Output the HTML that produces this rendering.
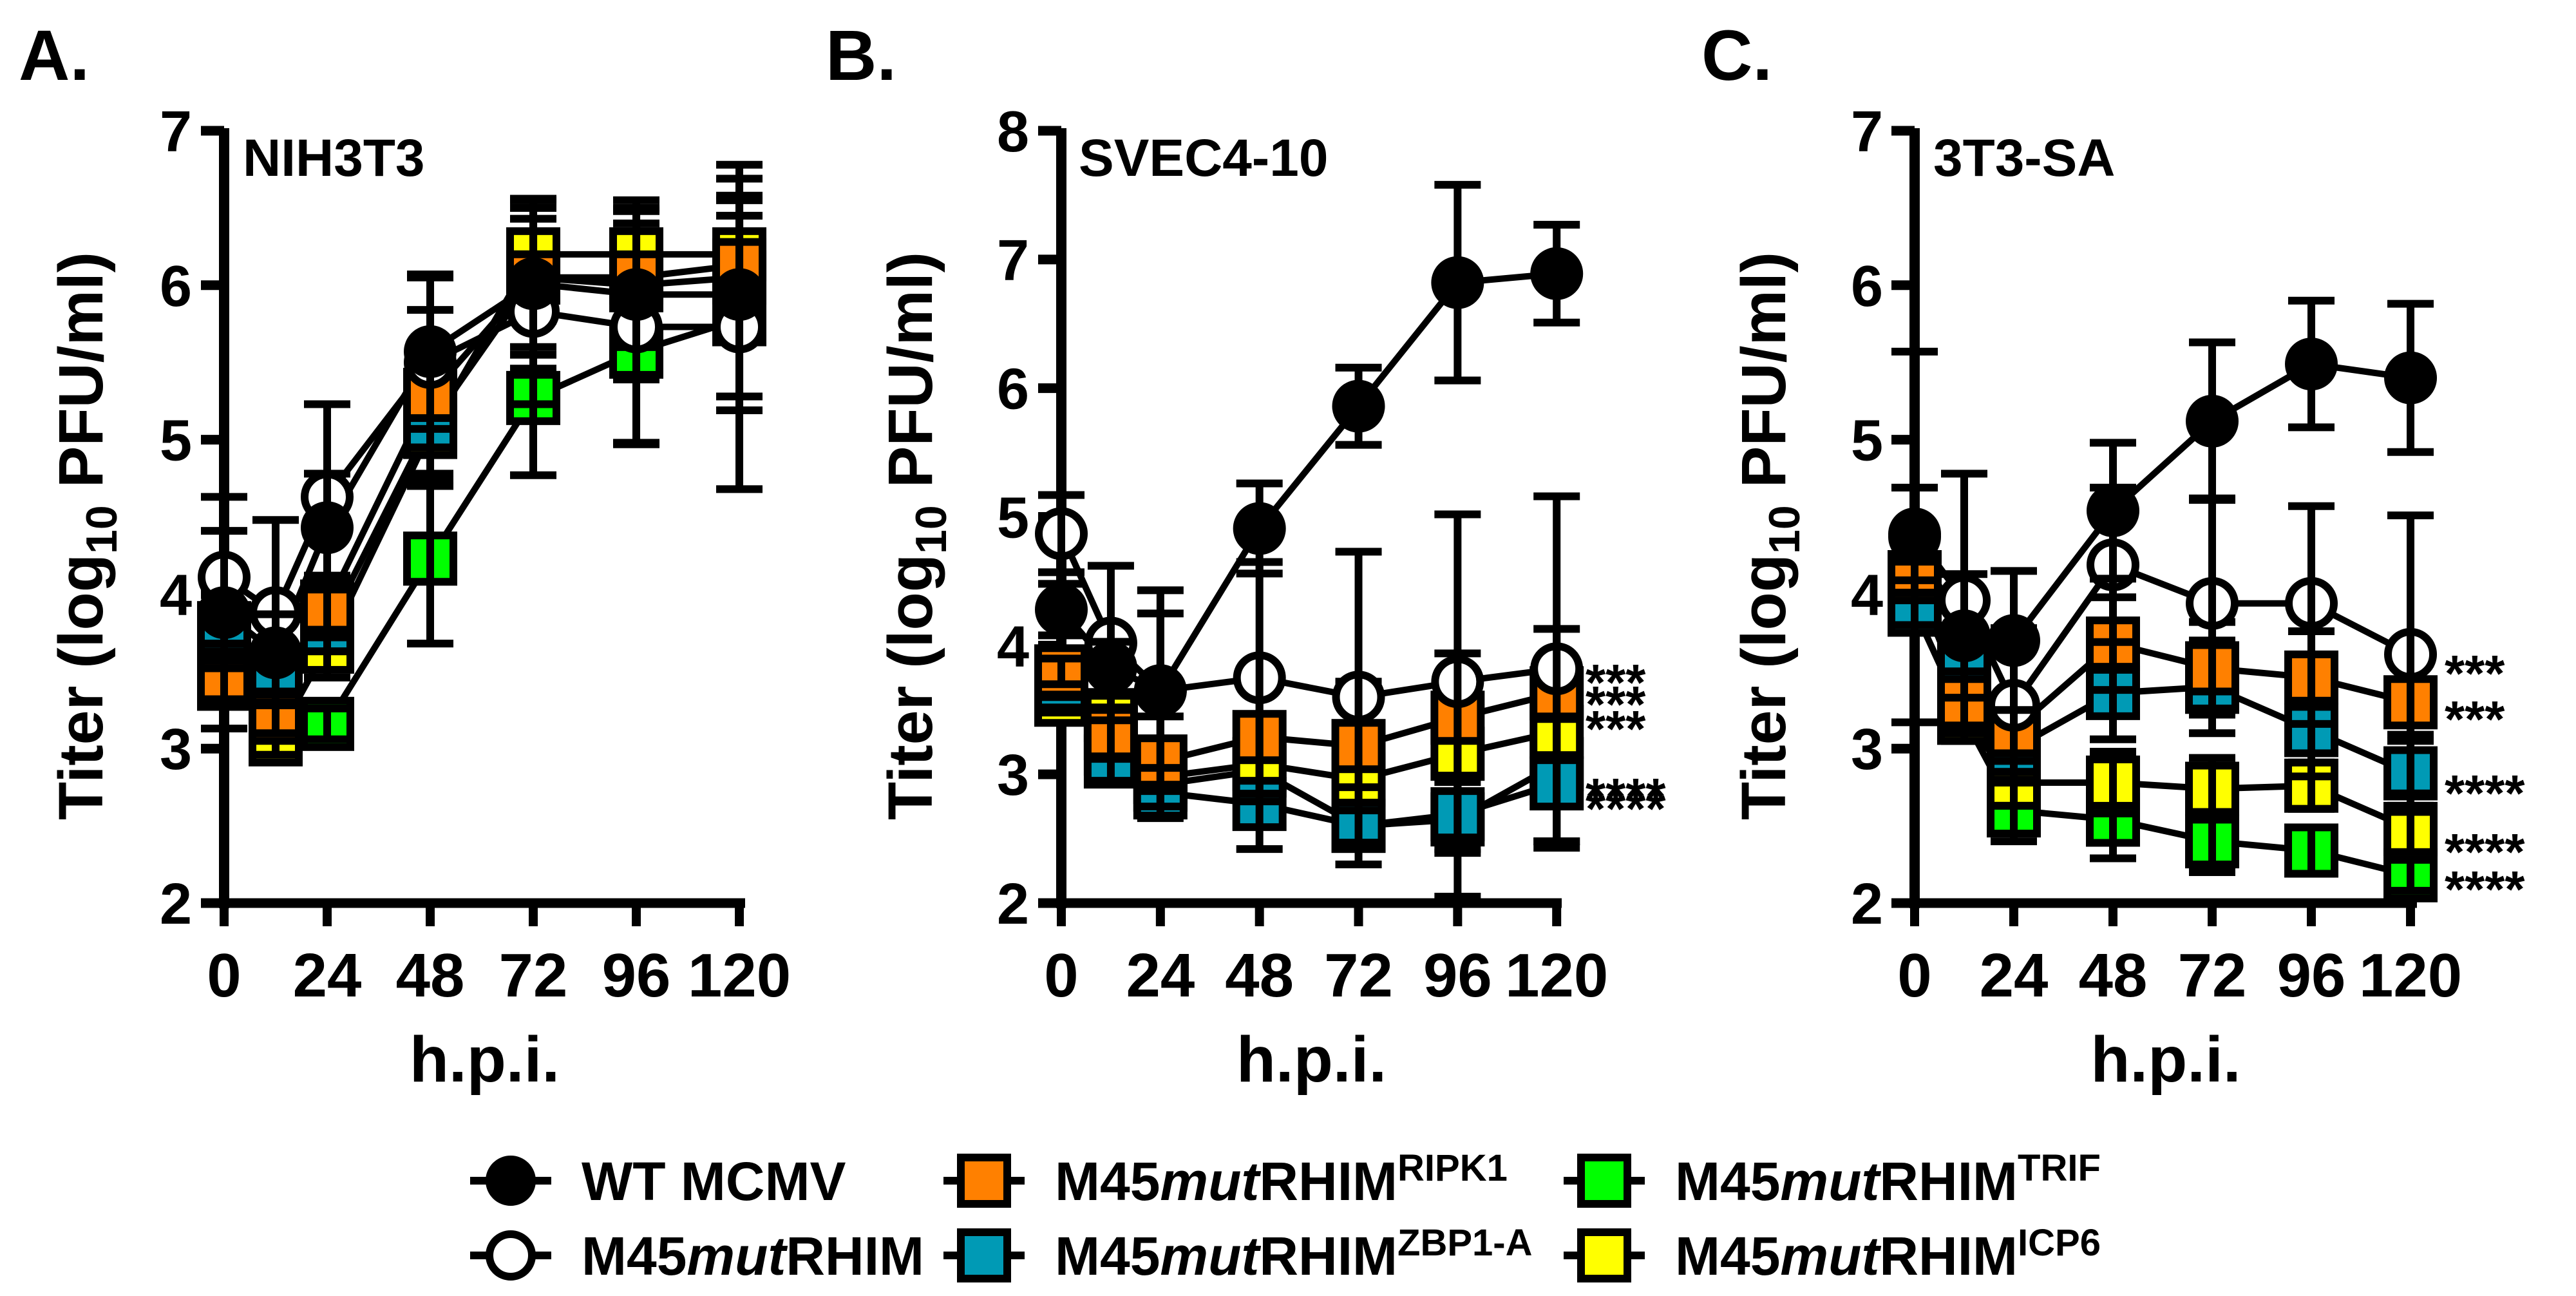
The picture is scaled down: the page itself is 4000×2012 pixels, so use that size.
<!DOCTYPE html>
<html><head><meta charset="utf-8"><style>
html,body{margin:0;padding:0;background:#fff;}
svg{display:block;font-family:"Liberation Sans",Arial,sans-serif;font-weight:bold;}
</style></head><body>
<svg id="fig" width="4000" height="2012" viewBox="0 0 4000 2012" xmlns="http://www.w3.org/2000/svg"></svg>
<script>
const times = [0,12,24,48,72,96,120];
const xTicks = [0,24,48,72,96,120];
// Panel A (NIH3T3)
const aWT    = [3.88,3.62,4.43,5.57,6.01,5.94,5.94];
const aMut   = [4.11,3.88,4.63,5.50,5.83,5.73,5.73];
const aRIPK1 = [3.42,3.20,3.92,5.29,6.05,6.05,6.13];
const aZBP1  = [3.78,3.46,3.78,5.10,6.05,6.00,6.05];
const aTRIF  = [3.70,3.20,3.16,4.23,5.27,5.57,5.78];
const aICP6  = [3.70,3.06,3.66,5.05,6.20,6.20,6.20];
const aWTerr    = [0.75,0.25,0.35,0.50,0.55,0.55,0.75];
const aMutErr   = [0.30,0.60,0.60,0.55,0.60,0.75,1.05];
const aRIPK1err = [0.10,0.10,0.20,0.55,0.50,0.45,0.45];
const aZBP1err  = [0.10,0.10,0.15,0.40,0.45,0.40,0.40];
const aTRIFerr  = [0.10,0.10,0.10,0.55,0.50,0.60,0.50];
const aICP6err  = [0.10,0.10,0.20,0.35,0.35,0.35,0.35];
// Panel B (SVEC4-10)
const bWT    = [4.28,3.83,3.65,4.91,5.86,6.82,6.89];
const bMut   = [4.87,4.02,3.65,3.75,3.60,3.72,3.82];
const bRIPK1 = [3.80,3.32,3.10,3.29,3.22,3.44,3.63];
const bZBP1  = [3.70,3.10,2.86,2.77,2.60,2.69,2.93];
const bTRIF  = [3.60,3.20,2.92,3.03,2.60,2.65,3.08];
const bICP6  = [3.58,3.46,2.98,3.08,2.96,3.16,3.33];
const bWTerr    = [0.20,0.20,0.78,0.35,0.30,0.76,0.38];
const bMutErr   = [0.30,0.60,0.60,0.90,1.13,1.30,1.34];
const bRIPK1err = [0.10,0.20,0.35,0.50,0.50,0.50,0.50];
const bZBP1err  = [0.10,0.15,0.20,0.35,0.30,0.30,0.50];
const bTRIFerr  = [0.10,0.15,0.20,0.40,0.30,0.60,0.60];
const bICP6err  = [0.10,0.15,0.20,0.30,0.30,0.30,0.40];
// Panel C (3T3-SA)
const cWT    = [4.37,3.73,3.70,4.54,5.12,5.49,5.40];
const cMut   = [4.39,3.96,3.28,4.19,3.94,3.94,3.61];
const cRIPK1 = [4.11,3.30,3.12,3.68,3.52,3.46,3.30];
const cZBP1  = [3.90,3.54,3.00,3.36,3.40,3.12,2.84];
const cTRIF  = [3.90,3.20,2.60,2.54,2.40,2.34,2.18];
const cICP6  = [3.90,3.20,2.78,2.78,2.74,2.76,2.48];
const cWTerr    = [1.20,0.40,0.45,0.44,0.51,0.41,0.48];
const cMutErr   = [0.30,0.82,0.50,0.50,0.68,0.63,0.90];
const cRIPK1err = [0.10,0.20,0.20,0.30,0.30,0.30,0.25];
const cZBP1err  = [0.10,0.20,0.20,0.30,0.30,0.30,0.25];
const cTRIFerr  = [0.10,0.15,0.20,0.25,0.20,0.15,0.10];
const cICP6err  = [0.10,0.15,0.15,0.20,0.20,0.15,0.15];
const bStars = ["***","***","***","****","****"];
const cStars = ["***","***","****","****","****"];

const NS="http://www.w3.org/2000/svg";
const svg=document.getElementById('fig');
function mk(tag,attrs,parent){const e=document.createElementNS(NS,tag);for(const k in attrs)e.setAttribute(k,attrs[k]);(parent||svg).appendChild(e);return e;}
const ORANGE="#FF8000",TEAL="#009AB5",GREEN="#00FF00",YELLOW="#FFFF00";

const panels=[
 {key:'a',letter:'A.',letterX:29,title:'NIH3T3',titleX:377,ax:348,xEnd:1157,perH:6.667,ymax:7,tickLabRight:298,ytitleX:124,
  series:[[aTRIF,aTRIFerr,'sq',GREEN,'trif'],[aICP6,aICP6err,'sq',YELLOW,'icp6'],[aZBP1,aZBP1err,'sq',TEAL,'zbp1'],[aRIPK1,aRIPK1err,'sq',ORANGE,'ripk1'],[aMut,aMutErr,'oc','#fff','mutrhim'],[aWT,aWTerr,'fc','#000','wt']],stars:null,starY:[]},
 {key:'b',letter:'B.',letterX:1282,title:'SVEC4-10',titleX:1675,ax:1648,xEnd:2425,perH:6.41,ymax:8,tickLabRight:1598,ytitleX:1412,
  series:[[bTRIF,bTRIFerr,'sq',GREEN,'trif'],[bICP6,bICP6err,'sq',YELLOW,'icp6'],[bZBP1,bZBP1err,'sq',TEAL,'zbp1'],[bRIPK1,bRIPK1err,'sq',ORANGE,'ripk1'],[bMut,bMutErr,'oc','#fff','mutrhim'],[bWT,bWTerr,'fc','#000','wt']],stars:bStars,starX:2462,starY:[1043,1077,1115,1220,1239]},
 {key:'c',letter:'C.',letterX:2642,title:'3T3-SA',titleX:3002,ax:2973,xEnd:3753,perH:6.417,ymax:7,tickLabRight:2924,ytitleX:2737,
  series:[[cTRIF,cTRIFerr,'sq',GREEN,'trif'],[cICP6,cICP6err,'sq',YELLOW,'icp6'],[cZBP1,cZBP1err,'sq',TEAL,'zbp1'],[cRIPK1,cRIPK1err,'sq',ORANGE,'ripk1'],[cMut,cMutErr,'oc','#fff','mutrhim'],[cWT,cWTerr,'fc','#000','wt']],stars:cStars,starX:3796,starY:[1029,1100,1215,1306,1364]}
];
const Y0=1402,YTOP=203;

panels.forEach(p=>{
  const g=mk('g',{});
  
  
  const X=t=>p.ax+t*p.perH;
  const Y=v=>Y0-(v-2)*(Y0-YTOP)/(p.ymax-2);
  const L=mk('text',{x:p.letterX,y:124,'font-size':110},g);L.textContent=p.letter;
  
  
  const T=mk('text',{x:p.titleX,y:273,'font-size':82},g);T.textContent=p.title;
  
  
  // y axis
  const ya=mk('line',{x1:p.ax,y1:YTOP-4,x2:p.ax,y2:Y0+8,stroke:'#000','stroke-width':16},g);
  
  
  for(let v=2;v<=p.ymax;v++){
    mk('line',{x1:p.ax-36,y1:Y(v),x2:p.ax,y2:Y(v),stroke:'#000','stroke-width':15},g);
    const tl=mk('text',{x:p.tickLabRight,y:Y(v)+32,'font-size':90,'text-anchor':'end'},g);tl.textContent=v;
    
    
  }
  const xa=mk('line',{x1:p.ax-8,y1:Y0,x2:p.xEnd,y2:Y0,stroke:'#000','stroke-width':15},g);
  
  
  xTicks.forEach(t=>{
    mk('line',{x1:X(t),y1:Y0,x2:X(t),y2:Y0+36,stroke:'#000','stroke-width':14},g);
    const tl=mk('text',{x:X(t),y:1547,'font-size':96,'text-anchor':'middle'},g);tl.textContent=t;
    
    
  });
  const xt=mk('text',{x:(p.ax+p.xEnd)/2,y:1679,'font-size':100,'text-anchor':'middle'},g);xt.textContent='h.p.i.';
  
  
  const yt=mk('text',{x:0,y:0,'font-size':97,'text-anchor':'middle',transform:`translate(${p.ytitleX+35},832) rotate(-90)`},g);
  
  
  yt.appendChild(document.createTextNode('Titer (log'));
  const sub=mk('tspan',{'font-size':68,dy:22},yt);sub.textContent='10';
  const rest=mk('tspan',{dy:-22},yt);rest.textContent='\u00a0PFU/ml)';
  // lines
  p.series.forEach(s=>{
    const pts=times.map((t,i)=>X(t)+','+Y(s[0][i])).join(' ');
    const pl=mk('polyline',{points:pts,fill:'none',stroke:'#000','stroke-width':10,'stroke-linejoin':'round'},g);
    
    
  });
  // markers + error bars
  p.series.forEach(s=>{
    times.forEach((t,i)=>{
      const cx=X(t),cy=Y(s[0][i]);
      let m;
      if(s[2]==='sq') m=mk('rect',{x:cx-36,y:cy-36,width:72,height:72,fill:s[3],stroke:'#000','stroke-width':12},g);
      else m=mk('circle',{cx:cx,cy:cy,r:35,fill:s[3],stroke:'#000','stroke-width':12},g);
      
      
      const e=s[1][i],yu=Y(s[0][i]+e),yl=Y(s[0][i]-e);
      const eb=mk('path',{d:`M${cx},${yu}V${yl}M${cx-36},${yu}H${cx+36}M${cx-36},${yl}H${cx+36}`,stroke:'#000','stroke-width':12,fill:'none'},g);
      
      
    });
  });
  if(p.stars){
    p.stars.forEach((st,i)=>{
      const a=mk('text',{x:p.starX,y:p.starY[i]+44,'font-size':80},g);a.textContent=st;
      
      
    });
  }
});

// Legend
const leg=mk('g',{});


const legItems=[
 [793,1833,'fc','#000',[['WT MCMV','n']]],
 [793,1949,'oc','#fff',[['M45','n'],['mut','i'],['RHIM','n']]],
 [1528,1833,'sq',ORANGE,[['M45','n'],['mut','i'],['RHIM','n'],['RIPK1','s']]],
 [1528,1949,'sq',TEAL,[['M45','n'],['mut','i'],['RHIM','n'],['ZBP1-A','s']]],
 [2491,1833,'sq',GREEN,[['M45','n'],['mut','i'],['RHIM','n'],['TRIF','s']]],
 [2491,1949,'sq',YELLOW,[['M45','n'],['mut','i'],['RHIM','n'],['ICP6','s']]]
];
legItems.forEach(it=>{
  const g=mk('g',{},leg);
  
  
  const [cx,cy,shape,fill,parts]=it;
  mk('line',{x1:cx-63,y1:cy,x2:cx+63,y2:cy,stroke:'#000','stroke-width':12},g);
  if(shape==='sq') mk('rect',{x:cx-36,y:cy-36,width:72,height:72,fill:fill,stroke:'#000','stroke-width':12},g);
  else mk('circle',{cx:cx,cy:cy,r:33,fill:fill,stroke:'#000','stroke-width':12},g);
  const t=mk('text',{x:cx+110,y:cy+30,'font-size':84},g);
  parts.forEach(pt=>{
    const ts=mk('tspan',{},t);ts.textContent=pt[0];
    if(pt[1]==='i') ts.setAttribute('font-style','italic');
    if(pt[1]==='s'){ts.setAttribute('font-size',58);ts.setAttribute('dy',-30);}
  });
});
</script>
</body></html>
